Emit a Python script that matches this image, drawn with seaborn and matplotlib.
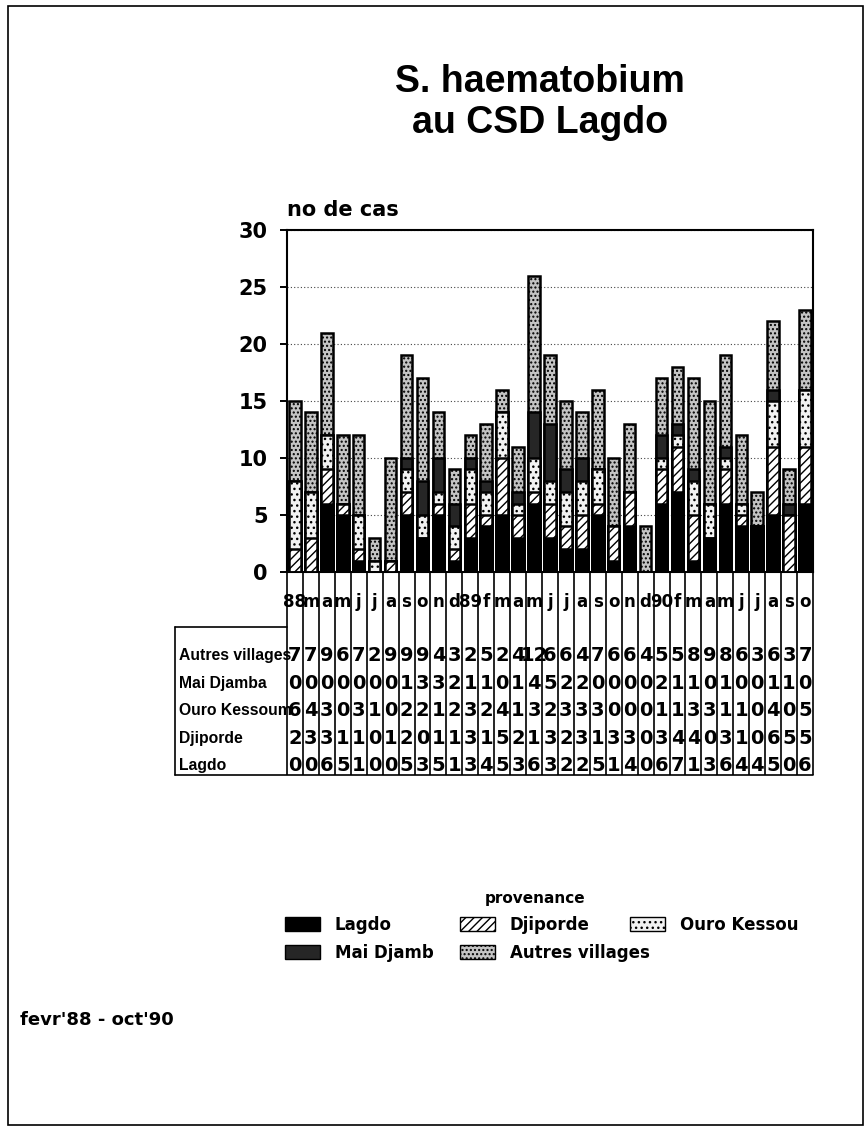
import numpy as np
import pandas as pd
import matplotlib
matplotlib.use('Agg')
from matplotlib.figure import Figure
from matplotlib.patches import Patch, Rectangle
import seaborn as sns

# months fevr'88 -> oct'90 (labels as printed under the bars)
mois = ["88", "m", "a", "m", "j", "j", "a", "s", "o", "n", "d",
        "89", "f", "m", "a", "m", "j", "j", "a", "s", "o", "n", "d",
        "90", "f", "m", "a", "m", "j", "j", "a", "s", "o"]

# number of cases per origin
lagdo = [0, 0, 6, 5, 1, 0, 0, 5, 3, 5, 1, 3, 4, 5, 3, 6, 3, 2, 2, 5, 1, 4, 0, 6, 7, 1, 3, 6, 4, 4, 5, 0, 6]
djiporde = [2, 3, 3, 1, 1, 0, 1, 2, 0, 1, 1, 3, 1, 5, 2, 1, 3, 2, 3, 1, 3, 3, 0, 3, 4, 4, 0, 3, 1, 0, 6, 5, 5]
ouro_kessoum = [6, 4, 3, 0, 3, 1, 0, 2, 2, 1, 2, 3, 2, 4, 1, 3, 2, 3, 3, 3, 0, 0, 0, 1, 1, 3, 3, 1, 1, 0, 4, 0, 5]
mai_djamba = [0, 0, 0, 0, 0, 0, 0, 1, 3, 3, 2, 1, 1, 0, 1, 4, 5, 2, 2, 0, 0, 0, 0, 2, 1, 1, 0, 1, 0, 0, 1, 1, 0]
autres = [7, 7, 9, 6, 7, 2, 9, 9, 9, 4, 3, 2, 5, 2, 4, 12, 6, 6, 4, 7, 6, 6, 4, 5, 5, 8, 9, 8, 6, 3, 6, 3, 7]

series_names = ["Lagdo", "Djiporde", "Ouro Kessoum", "Mai Djamba", "Autres villages"]
legend_names = ["Lagdo", "Djiporde", "Ouro Kessou", "Mai Djamb", "Autres villages"]

sns.set_style("white")
matplotlib.rcParams['font.family'] = ['DejaVu Sans']
matplotlib.rcParams['hatch.linewidth'] = 1.0
for key in ['text.color', 'axes.labelcolor', 'xtick.color', 'ytick.color', 'axes.edgecolor']:
    matplotlib.rcParams[key] = 'black'

NARROW = ['Liberation Sans', 'DejaVu Sans']

df = pd.DataFrame({"pos": range(len(mois)), "Lagdo": lagdo, "Djiporde": djiporde,
                   "Ouro Kessoum": ouro_kessoum, "Mai Djamba": mai_djamba,
                   "Autres villages": autres})

# style of each layer (bottom -> top)
styles = {
    "Lagdo": dict(facecolor="black", hatch=None),
    "Djiporde": dict(facecolor="white", hatch="////"),
    "Ouro Kessoum": dict(facecolor="#f2f2f2", hatch="..."),
    "Mai Djamba": dict(facecolor="#262626", hatch=None),
    "Autres villages": dict(facecolor="#c4c4c4", hatch="...."),
}

fig = Figure(figsize=(8.66, 11.27), dpi=100)
fig.patch.set_facecolor("white")
ax = fig.add_axes([0.3314, 0.4925, 0.6074, 0.3034])

# stacked bars: draw cumulative totals from the top layer down
cum = df[series_names].cumsum(axis=1)
for name in reversed(series_names):
    st = styles[name]
    sns.barplot(x=df["pos"], y=cum[name], ax=ax, color=st["facecolor"], saturation=1,
                edgecolor="black", linewidth=1.8, hatch=st["hatch"], width=0.72,
                errorbar=None, zorder=3)

ax.set_ylim(0, 30)
ax.set_xlim(-0.5, len(mois) - 0.5)
ax.set_yticks(range(0, 31, 5), [str(v) for v in range(0, 31, 5)],
              fontsize=15, fontweight="bold")
ax.set_xticks(range(len(mois)), mois, fontsize=12, fontweight="bold")
ax.tick_params(axis="x", length=0, pad=15)
ax.tick_params(axis="y", length=5, width=1.4, direction="out", pad=9, left=True)
ax.set_xlabel("")
ax.set_ylabel("")
ax.yaxis.grid(True, linestyle=(0, (1, 2)), color="#444444", linewidth=0.8)
ax.set_axisbelow(True)
for sp in ax.spines.values():
    sp.set_linewidth(1.5)
    sp.set_color("black")
ax.text(0.0, 1.03, "no de cas", transform=ax.transAxes, fontsize=15,
        fontweight="bold", ha="left", va="bottom")

# data table under the chart
tab_bottom = -0.594
ax.vlines(np.arange(len(mois) + 1) - 0.5, tab_bottom, 0, transform=ax.get_xaxis_transform(),
          colors="black", linewidth=1.2, clip_on=False)
ax.plot([-0.213, 0], [-0.161, -0.161], transform=ax.transAxes, color="black", lw=1.2, clip_on=False)
ax.plot([-0.213, -0.213], [-0.161, tab_bottom], transform=ax.transAxes, color="black", lw=1.2, clip_on=False)
ax.plot([-0.213, 1], [tab_bottom, tab_bottom], transform=ax.transAxes, color="black", lw=1.2, clip_on=False)

row_y = {"Autres villages": -0.243, "Mai Djamba": -0.325, "Ouro Kessoum": -0.406,
         "Djiporde": -0.488, "Lagdo": -0.566}
for name, yy in row_y.items():
    ax.text(-0.205, yy, name, transform=ax.transAxes, fontsize=11.3, fontweight="bold",
            family=NARROW, ha="left", va="center")
    for i, v in enumerate(df[name]):
        ax.text(i, yy, str(v), transform=ax.get_xaxis_transform(), fontsize=14,
                fontweight="bold", ha="center", va="center")

# title
fig.text(0.624, 0.909, "S. haematobium\nau CSD Lagdo", fontsize=27, fontweight="bold",
         family=NARROW, ha="center", va="center", linespacing=1.18)

# legend: one entry per slot, laid out like the original
handles = {n: Patch(facecolor=styles[s]["facecolor"], hatch=styles[s]["hatch"],
                    edgecolor="black", linewidth=1.0)
           for n, s in zip(legend_names, series_names)}
slots = {"Lagdo": (0.329, 0.1875), "Djiporde": (0.531, 0.1875), "Ouro Kessou": (0.727, 0.1875),
         "Mai Djamb": (0.329, 0.1625), "Autres villages": (0.531, 0.1625)}
for n, anchor in slots.items():
    fig.legend([handles[n]], [n], loc="upper left", bbox_to_anchor=anchor, frameon=False,
               prop={"weight": "bold", "size": 12}, handlelength=2.1, handleheight=0.9,
               handletextpad=0.9, borderpad=0, borderaxespad=0)
fig.text(0.618, 0.203, "provenance", fontsize=11, fontweight="bold",
         ha="center", va="center")

fig.text(0.023, 0.095, "fevr'88 - oct'90", fontsize=13, fontweight="bold",
         ha="left", va="center")

# page frame
fig.add_artist(Rectangle((0.009, 0.002), 0.988, 0.993, transform=fig.transFigure,
                         fill=False, edgecolor="black", linewidth=1.2))

fig.savefig("out.png", dpi=100)
